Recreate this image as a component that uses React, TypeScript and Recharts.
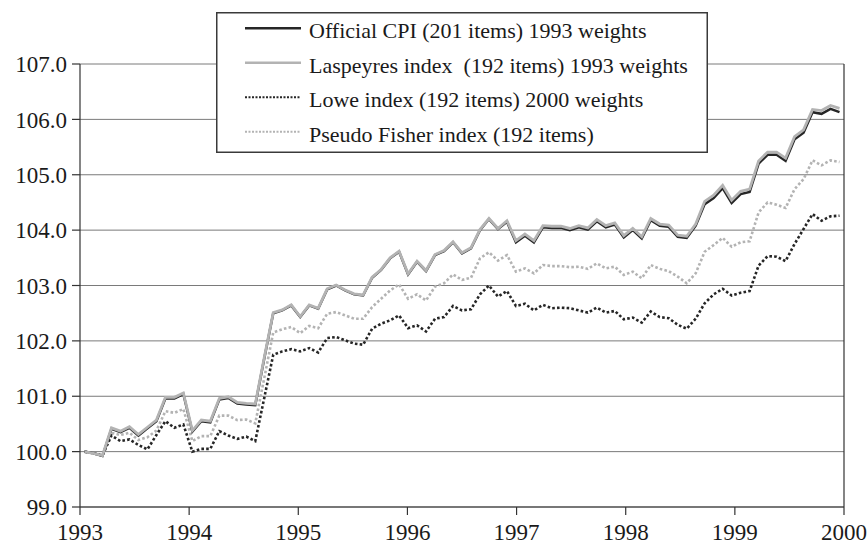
import { LineChart, Line, XAxis, YAxis, CartesianGrid, Legend, ReferenceLine } from "recharts"

// tick labels
const YEARS = [1993, 1994, 1995, 1996, 1997, 1998, 1999, 2000]
const Y_TICKS = [99, 100, 101, 102, 103, 104, 105, 106, 107]

// monthly index values, 1993 = 100
const officialCpi = [
  100.0, 99.97, 99.92, 100.41, 100.35, 100.43, 100.29, 100.42, 100.55, 100.96,
  100.96, 101.04, 100.36, 100.55, 100.53, 100.94, 100.97, 100.87, 100.85, 100.84,
  101.68, 102.5, 102.55, 102.64, 102.43, 102.64, 102.58, 102.93, 103.0, 102.91,
  102.84, 102.82, 103.14, 103.28, 103.49, 103.61, 103.2, 103.43, 103.26, 103.55,
  103.62, 103.78, 103.58, 103.67, 104.0, 104.2, 104.02, 104.15, 103.78, 103.9,
  103.78, 104.05, 104.04, 104.04, 104.0, 104.05, 104.01, 104.16, 104.05, 104.1,
  103.87, 104.0, 103.85, 104.18, 104.08, 104.06, 103.88, 103.86, 104.08, 104.47,
  104.58, 104.76, 104.49, 104.65, 104.69, 105.2, 105.36, 105.36, 105.25, 105.64,
  105.76, 106.13, 106.1, 106.19, 106.13,
]

const laspeyres = [
  100.0, 99.97, 99.93, 100.43, 100.37, 100.45, 100.31, 100.44, 100.57, 100.98,
  100.98, 101.06, 100.38, 100.57, 100.55, 100.96, 100.99, 100.89, 100.87, 100.86,
  101.7, 102.51, 102.56, 102.65, 102.44, 102.65, 102.59, 102.94, 103.01, 102.92,
  102.85, 102.83, 103.15, 103.29, 103.5, 103.62, 103.21, 103.44, 103.27, 103.56,
  103.63, 103.79, 103.59, 103.68, 104.01, 104.21, 104.03, 104.17, 103.81, 103.93,
  103.81, 104.08, 104.07, 104.07, 104.03, 104.08, 104.04, 104.19, 104.08, 104.13,
  103.9, 104.03, 103.88, 104.21, 104.11, 104.09, 103.91, 103.89, 104.11, 104.52,
  104.63, 104.81, 104.54, 104.7, 104.74, 105.25, 105.41, 105.41, 105.3, 105.69,
  105.81, 106.18, 106.16, 106.25, 106.2,
]

const lowe = [
  100.0, 99.97, 99.93, 100.29, 100.19, 100.22, 100.12, 100.04, 100.3, 100.55,
  100.43, 100.49, 100.0, 100.05, 100.05, 100.37, 100.29, 100.23, 100.27, 100.19,
  100.97, 101.75, 101.81, 101.85, 101.81, 101.87, 101.79, 102.05, 102.07, 102.01,
  101.95, 101.93, 102.22, 102.31, 102.37, 102.46, 102.23, 102.28, 102.17, 102.4,
  102.43, 102.63, 102.55, 102.57, 102.84, 103.0, 102.8, 102.9, 102.63, 102.67,
  102.55, 102.65, 102.59, 102.6, 102.59, 102.55, 102.51, 102.6, 102.51, 102.54,
  102.39, 102.42, 102.33, 102.53, 102.43, 102.41, 102.29, 102.22, 102.4, 102.68,
  102.84, 102.94, 102.82, 102.87, 102.9, 103.36, 103.53, 103.52, 103.44, 103.75,
  104.02, 104.29, 104.17, 104.25, 104.26,
]

const pseudoFisher = [
  100.0, 99.97, 99.93, 100.34, 100.3, 100.34, 100.21, 100.26, 100.38, 100.73,
  100.7, 100.77, 100.19, 100.28, 100.28, 100.65, 100.65, 100.57, 100.58, 100.51,
  101.33, 102.15, 102.21, 102.25, 102.14, 102.27, 102.23, 102.49, 102.52, 102.46,
  102.4, 102.4, 102.61, 102.76, 102.91, 103.02, 102.76, 102.84, 102.73, 102.98,
  103.04, 103.2, 103.1, 103.14, 103.49, 103.6, 103.45, 103.55, 103.25, 103.31,
  103.22, 103.37, 103.35, 103.35, 103.33, 103.34, 103.3, 103.4, 103.31, 103.34,
  103.19, 103.25, 103.13, 103.37, 103.3, 103.26, 103.16, 103.04, 103.22, 103.61,
  103.73, 103.86, 103.7, 103.78, 103.8, 104.32, 104.5, 104.46, 104.4, 104.74,
  104.92, 105.26, 105.17, 105.26, 105.23,
]

const FONT = '"Liberation Serif", "Times New Roman", serif'
const DARK = "#262626"
const LIGHT = "#b3b3b3"

// legend order as in the reference; drawing order is handled separately below
const SERIES = [
  { key: "official", name: "Official CPI (201 items) 1993 weights", color: DARK, width: 2.5, dash: undefined },
  { key: "laspeyres", name: "Laspeyres index  (192 items) 1993 weights", color: LIGHT, width: 2.8, dash: undefined },
  { key: "lowe", name: "Lowe index (192 items) 2000 weights", color: DARK, width: 2.6, dash: "2.6 2.2" },
  { key: "fisher", name: "Pseudo Fisher index (192 items)", color: LIGHT, width: 2.6, dash: "2.6 2.2" },
]

const span = YEARS[YEARS.length - 1] - YEARS[0]
const data = officialCpi.map((v, i) => ({
  t: YEARS[0] + ((i + 0.5) * span) / officialCpi.length,
  official: v,
  laspeyres: laspeyres[i],
  lowe: lowe[i],
  fisher: pseudoFisher[i],
}))

function LegendBox() {
  const rowBase = [26, 60.5, 95, 129.5]
  return (
    <svg width={492} height={141} style={{ display: "block" }}>
      <rect x={0.75} y={0.75} width={490.5} height={139.5} fill="#fff" stroke="#3a3a3a" strokeWidth={1.5} />
      {SERIES.map((s, i) => (
        <g key={s.key}>
          <line
            x1={29}
            x2={85}
            y1={rowBase[i] - 9.7}
            y2={rowBase[i] - 9.7}
            stroke={s.color}
            strokeWidth={s.dash ? 2 : 2.5}
            strokeDasharray={s.dash ? "2 1.5" : undefined}
          />
          <text x={93} y={rowBase[i]} fontFamily={FONT} fontSize={22} fill="#1a1a1a" style={{ whiteSpace: "pre" }}>
            {s.name}
          </text>
        </g>
      ))}
    </svg>
  )
}

export default function App() {
  const tickStyle = { fontFamily: FONT, fontSize: 23, fill: "#1a1a1a" }
  // dotted series first, then the solid ones (Laspeyres over Official)
  const drawOrder = ["fisher", "lowe", "official", "laspeyres"]
  return (
    <div style={{ position: "absolute", left: 0, top: 0, background: "#fff" }}>
      <LineChart width={868} height={546} data={data} margin={{ top: 64, right: 24, bottom: 0, left: 0 }}>
        <CartesianGrid vertical={false} stroke="#7a7a7a" strokeWidth={1} />
        <XAxis
          dataKey="t"
          type="number"
          domain={[YEARS[0], YEARS[YEARS.length - 1]]}
          ticks={YEARS}
          interval={0}
          height={39}
          tickSize={8}
          tickMargin={9}
          axisLine={{ stroke: "#333", strokeWidth: 1.2 }}
          tickLine={{ stroke: "#333", strokeWidth: 1.2 }}
          tick={tickStyle}
        />
        <YAxis
          domain={[99, 107]}
          ticks={Y_TICKS}
          interval={0}
          width={80}
          tickSize={8}
          tickMargin={5}
          tickFormatter={(v: number) => v.toFixed(1)}
          axisLine={{ stroke: "#333", strokeWidth: 1.2 }}
          tickLine={{ stroke: "#333", strokeWidth: 1.2 }}
          tick={tickStyle}
        />
        <ReferenceLine x={YEARS[YEARS.length - 1]} stroke="#333" strokeWidth={1.2} />
        {drawOrder.map((k) => {
          const s = SERIES.find((x) => x.key === k)!
          return (
            <Line
              key={s.key}
              dataKey={s.key}
              name={s.name}
              type="linear"
              stroke={s.color}
              strokeWidth={s.width}
              strokeDasharray={s.dash}
              dot={false}
              activeDot={false}
              isAnimationActive={false}
            />
          )
        })}
        <Legend
          layout="vertical"
          align="center"
          verticalAlign="middle"
          content={() => <LegendBox />}
          wrapperStyle={{ left: 216, top: 12, width: 492, height: 141 }}
        />
      </LineChart>
    </div>
  )
}
